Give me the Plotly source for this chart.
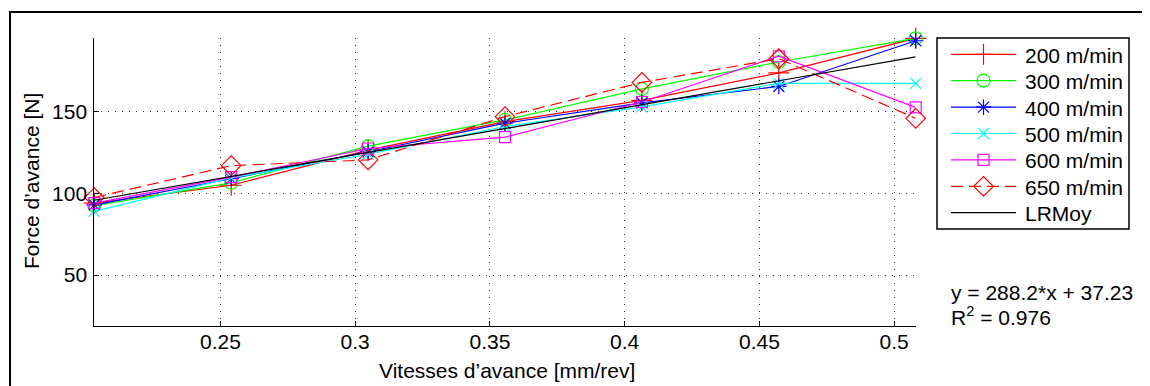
import plotly.graph_objects as go

# ---- data ----
feed = [0.2032, 0.254, 0.3048, 0.3556, 0.4064, 0.4572, 0.508]
f200 = [94.0, 105.0, 126.5, 144.0, 157.0, 173.8, 195.0]
f300 = [92.5, 106.5, 129.0, 145.0, 164.0, 180.5, 195.0]
f400 = [93.0, 109.0, 125.5, 143.0, 155.5, 165.5, 193.5]
f500 = [89.0, 109.5, 124.0, 141.0, 153.0, 167.4, 167.4]
f600 = [94.0, 110.0, 127.5, 134.5, 156.0, 184.0, 152.7]
f650 = [97.5, 117.0, 120.5, 147.0, 168.0, 182.5, 146.0]
lr_x = [0.2032, 0.508]
lr_y = [95.8, 183.6]

series_names = ["200 m/min", "300 m/min", "400 m/min", "500 m/min", "600 m/min", "650 m/min", "LRMoy"]
x_tickvals = [0.25, 0.3, 0.35, 0.4, 0.45, 0.5]
x_ticktext = ["0.25", "0.3", "0.35", "0.4", "0.45", "0.5"]
y_tickvals = [50, 100, 150]
y_ticktext = ["50", "100", "150"]
x_title = "Vitesses d’avance [mm/rev]"
y_title = "Force d’avance [N]"
eq_text = "y = 288.2*x + 37.23"
r2_text = "R<sup>2</sup> = 0.976"

FONT = "Liberation Sans, Arial, Helvetica, sans-serif"
FS = 21
OFF = 8                     # page body margin
W, H = 1150 - OFF, 386 - OFF

styles = [
    dict(color="#FF0000", symbol="cross-thin-open", size=15, dash="solid"),
    dict(color="#00FF00", symbol="circle-open", size=13, dash="solid"),
    dict(color="#0000FF", symbol="asterisk-open", size=13, dash="solid"),
    dict(color="#00FFFF", symbol="x-thin-open", size=11, dash="solid"),
    dict(color="#FF00FF", symbol="square-open", size=11, dash="solid"),
    dict(color="#FF0000", symbol="diamond-open", size=15, dash="12px,6px"),
    dict(color="#000000", symbol=None, size=0, dash="solid"),
]

fig = go.Figure()
all_series = [f200, f300, f400, f500, f600, f650]
for name, ys, st in zip(series_names[:6], all_series, styles[:6]):
    fig.add_trace(go.Scatter(
        x=feed, y=ys, name=name, mode="lines+markers",
        line=dict(color=st["color"], width=1.2, dash=st["dash"]),
        marker=dict(symbol=st["symbol"], size=st["size"], color=st["color"],
                    line=dict(color=st["color"], width=1.2)),
        cliponaxis=False, showlegend=False,
    ))
fig.add_trace(go.Scatter(x=lr_x, y=lr_y, name="LRMoy", mode="lines",
                         line=dict(color="black", width=1.2), showlegend=False))

# plot-area placement in screen pixels
AX_L, AX_R, AX_T, AX_B = 94.3, 915.7, 38.3, 326.0

def fx(px):
    return (px - OFF) / W

def fy(py):
    return (H - (py - OFF)) / H

# ---- manual legend ----
LEG_L, LEG_R, LEG_T, LEG_B = 937, 1129, 38, 229
row0, row_dy = 54.3, 26.4
ln_x0, ln_x1, txt_x = 951, 1016, 1023
for i, (name, st) in enumerate(zip(series_names, styles)):
    ry = row0 + i * row_dy
    fig.add_shape(type="line", xref="paper", yref="paper",
                  x0=fx(ln_x0), x1=fx(ln_x1), y0=fy(ry), y1=fy(ry),
                  line=dict(color=st["color"], width=1.2, dash=st["dash"]), layer="above")
    if st["symbol"]:
        fig.add_trace(go.Scatter(
            x=[(ln_x0 + ln_x1) / 2], y=[ry], xaxis="x2", yaxis="y2", mode="markers",
            marker=dict(symbol=st["symbol"], size=st["size"], color=st["color"],
                        line=dict(color=st["color"], width=1.2)),
            showlegend=False, hoverinfo="skip", cliponaxis=False))
    fig.add_annotation(x=fx(txt_x), y=fy(ry + 1), xref="paper", yref="paper", text=name,
                       showarrow=False, xanchor="left", yanchor="middle",
                       font=dict(family=FONT, size=FS, color="black"))
fig.add_shape(type="rect", xref="paper", yref="paper",
              x0=fx(LEG_L), x1=fx(LEG_R), y0=fy(LEG_B), y1=fy(LEG_T),
              line=dict(color="black", width=1.5), layer="above")

grid = dict(showgrid=True, gridcolor="#333333", gridwidth=1, griddash="1px,6px")
fig.update_layout(
    width=W, height=H,
    margin=dict(l=0, r=0, t=0, b=0, pad=0),
    paper_bgcolor="white", plot_bgcolor="rgba(0,0,0,0)",
    font=dict(family=FONT, size=FS, color="black"),
    showlegend=False,
    xaxis=dict(domain=[fx(AX_L), fx(AX_R)], range=[0.2032, 0.508],
               tickvals=x_tickvals, ticktext=x_ticktext,
               showline=True, linecolor="black", linewidth=1, mirror=False,
               ticks="inside", ticklen=5, tickcolor="black", ticklabelstandoff=-3,
               zeroline=False, automargin=False, tickfont=dict(size=FS), **grid),
    yaxis=dict(domain=[fy(AX_B), fy(AX_T)], range=[18.8, 195],
               tickvals=y_tickvals, ticktext=y_ticktext,
               showline=True, linecolor="black", linewidth=1, mirror=False,
               ticks="inside", ticklen=5, tickcolor="black", ticklabelstandoff=2,
               zeroline=False, automargin=False, tickfont=dict(size=FS), **grid),
    xaxis2=dict(domain=[0, 1], range=[OFF, OFF + W], visible=False, anchor="y2", fixedrange=True),
    yaxis2=dict(domain=[0, 1], range=[OFF + H, OFF], visible=False, anchor="x2", fixedrange=True),
)

# outer figure frame
fig.add_shape(type="rect", xref="paper", yref="paper",
              x0=fx(10), x1=fx(1149), y0=fy(392), y1=fy(12),
              line=dict(color="black", width=2), layer="above")

# axis titles
fig.add_annotation(x=fx((AX_L + AX_R) / 2 + 2), y=fy(370), xref="paper", yref="paper",
                   text=x_title, showarrow=False, xanchor="center", yanchor="middle",
                   font=dict(family=FONT, size=FS))
fig.add_annotation(x=fx(31), y=fy(181), xref="paper", yref="paper",
                   text=y_title, showarrow=False, xanchor="center", yanchor="middle",
                   textangle=-90, font=dict(family=FONT, size=FS))

# regression text
fig.add_annotation(x=fx(949), y=fy(292), xref="paper", yref="paper",
                   text=eq_text, showarrow=False, xanchor="left", yanchor="middle",
                   font=dict(family=FONT, size=FS))
fig.add_annotation(x=fx(949), y=fy(315.5), xref="paper", yref="paper",
                   text=r2_text, showarrow=False, xanchor="left", yanchor="middle",
                   font=dict(family=FONT, size=FS))

fig.write_html("out.html")
